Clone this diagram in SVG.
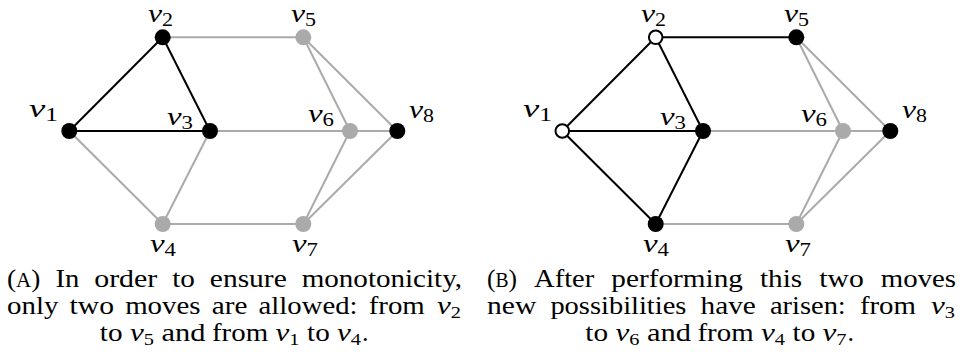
<svg xmlns="http://www.w3.org/2000/svg" width="960" height="364" viewBox="0 0 960 364">
<style>
.g{stroke:#aaaaaa;stroke-width:2;fill:none}
.k{stroke:#000;stroke-width:2;fill:none}
.nb{fill:#000}
.ng{fill:#aaaaaa}
.nw{fill:#fff;stroke:#000;stroke-width:2}
.lab{font-family:'Liberation Serif','Times New Roman',Tinos,Times,serif;font-style:italic;font-size:26px;fill:#000}
.sub{font-style:normal;font-size:18px}
.cap{font-family:'Liberation Serif','Times New Roman',Tinos,Times,serif;font-size:26px;fill:#000}
.m{font-family:'Liberation Serif','Times New Roman',Tinos,Times,serif;font-size:26px;font-style:italic;fill:#000}
.s{font-style:normal;font-size:17px}
.sc{font-size:20px}
</style>
<rect width="960" height="364" fill="#fff"/>
<g id="connectors">
<g id="edges-a">
<line class="g" x1="69.3" y1="131" x2="162.7" y2="224"/>
<line class="g" x1="210" y1="131" x2="162.7" y2="224"/>
<line class="g" x1="162.7" y1="37.3" x2="303.3" y2="37.3"/>
<line class="g" x1="210" y1="131" x2="350" y2="131"/>
<line class="g" x1="162.7" y1="224" x2="303.3" y2="224"/>
<line class="g" x1="303.3" y1="37.3" x2="350" y2="131"/>
<line class="g" x1="303.3" y1="37.3" x2="397.3" y2="131"/>
<line class="g" x1="350" y1="131" x2="397.3" y2="131"/>
<line class="g" x1="350" y1="131" x2="303.3" y2="224"/>
<line class="g" x1="397.3" y1="131" x2="303.3" y2="224"/>
<line class="k" x1="69.3" y1="131" x2="162.7" y2="37.3"/>
<line class="k" x1="69.3" y1="131" x2="210" y2="131"/>
<line class="k" x1="162.7" y1="37.3" x2="210" y2="131"/>
</g>
<g id="edges-b">
<line class="g" x1="703" y1="131" x2="843" y2="131"/>
<line class="g" x1="655.7" y1="224" x2="796.3" y2="224"/>
<line class="g" x1="796.3" y1="37.3" x2="843" y2="131"/>
<line class="g" x1="796.3" y1="37.3" x2="890.3" y2="131"/>
<line class="g" x1="843" y1="131" x2="890.3" y2="131"/>
<line class="g" x1="843" y1="131" x2="796.3" y2="224"/>
<line class="g" x1="890.3" y1="131" x2="796.3" y2="224"/>
<line class="k" x1="562.3" y1="131" x2="655.7" y2="37.3"/>
<line class="k" x1="562.3" y1="131" x2="703" y2="131"/>
<line class="k" x1="562.3" y1="131" x2="655.7" y2="224"/>
<line class="k" x1="655.7" y1="37.3" x2="703" y2="131"/>
<line class="k" x1="655.7" y1="37.3" x2="796.3" y2="37.3"/>
<line class="k" x1="703" y1="131" x2="655.7" y2="224"/>
</g>
</g>
<g id="a-v1"><circle class="nb" cx="69.3" cy="131" r="8"/><text class="lab" x="29" y="117" textLength="29" lengthAdjust="spacingAndGlyphs">v<tspan class="sub" dy="4">1</tspan></text></g>
<g id="a-v2"><circle class="nb" cx="162.7" cy="37.3" r="8"/><text class="lab" x="148" y="22" textLength="25" lengthAdjust="spacingAndGlyphs">v<tspan class="sub" dy="4">2</tspan></text></g>
<g id="a-v3"><circle class="nb" cx="210" cy="131" r="8"/><text class="lab" x="167" y="125" textLength="26" lengthAdjust="spacingAndGlyphs">v<tspan class="sub" dy="4">3</tspan></text></g>
<g id="a-v4"><circle class="ng" cx="162.7" cy="224" r="8"/><text class="lab" x="150" y="252" textLength="26" lengthAdjust="spacingAndGlyphs">v<tspan class="sub" dy="4">4</tspan></text></g>
<g id="a-v5"><circle class="ng" cx="303.3" cy="37.3" r="8"/><text class="lab" x="291" y="22" textLength="25" lengthAdjust="spacingAndGlyphs">v<tspan class="sub" dy="4">5</tspan></text></g>
<g id="a-v6"><circle class="ng" cx="350" cy="131" r="8"/><text class="lab" x="308" y="122" textLength="26" lengthAdjust="spacingAndGlyphs">v<tspan class="sub" dy="4">6</tspan></text></g>
<g id="a-v7"><circle class="ng" cx="303.3" cy="224" r="8"/><text class="lab" x="292" y="252" textLength="26" lengthAdjust="spacingAndGlyphs">v<tspan class="sub" dy="4">7</tspan></text></g>
<g id="a-v8"><circle class="nb" cx="397.3" cy="131" r="8"/><text class="lab" x="409" y="118" textLength="25" lengthAdjust="spacingAndGlyphs">v<tspan class="sub" dy="4">8</tspan></text></g>

<g id="b-v1"><circle class="nw" cx="562.3" cy="131" r="6.8"/><text class="lab" x="523" y="117" textLength="29" lengthAdjust="spacingAndGlyphs">v<tspan class="sub" dy="4">1</tspan></text></g>
<g id="b-v2"><circle class="nw" cx="655.7" cy="37.3" r="6.8"/><text class="lab" x="641" y="22" textLength="25" lengthAdjust="spacingAndGlyphs">v<tspan class="sub" dy="4">2</tspan></text></g>
<g id="b-v3"><circle class="nb" cx="703" cy="131" r="8"/><text class="lab" x="660" y="125" textLength="26" lengthAdjust="spacingAndGlyphs">v<tspan class="sub" dy="4">3</tspan></text></g>
<g id="b-v4"><circle class="nb" cx="655.7" cy="224" r="8"/><text class="lab" x="643" y="252" textLength="26" lengthAdjust="spacingAndGlyphs">v<tspan class="sub" dy="4">4</tspan></text></g>
<g id="b-v5"><circle class="nb" cx="796.3" cy="37.3" r="8"/><text class="lab" x="784" y="22" textLength="25" lengthAdjust="spacingAndGlyphs">v<tspan class="sub" dy="4">5</tspan></text></g>
<g id="b-v6"><circle class="ng" cx="843" cy="131" r="8"/><text class="lab" x="801" y="122" textLength="26" lengthAdjust="spacingAndGlyphs">v<tspan class="sub" dy="4">6</tspan></text></g>
<g id="b-v7"><circle class="ng" cx="796.3" cy="224" r="8"/><text class="lab" x="785" y="252" textLength="26" lengthAdjust="spacingAndGlyphs">v<tspan class="sub" dy="4">7</tspan></text></g>
<g id="b-v8"><circle class="nb" cx="890.3" cy="131" r="8"/><text class="lab" x="902" y="118" textLength="25" lengthAdjust="spacingAndGlyphs">v<tspan class="sub" dy="4">8</tspan></text></g>

<g id="caption-a">
<text class="cap" x="7" y="287" textLength="33.5" lengthAdjust="spacingAndGlyphs">(<tspan class="sc">A</tspan>)</text>
<text class="cap" x="55.4" y="287" textLength="23.9" lengthAdjust="spacingAndGlyphs">In</text>
<text class="cap" x="94.2" y="287" textLength="63.1" lengthAdjust="spacingAndGlyphs">order</text>
<text class="cap" x="172.2" y="287" textLength="22.7" lengthAdjust="spacingAndGlyphs">to</text>
<text class="cap" x="209.8" y="287" textLength="77" lengthAdjust="spacingAndGlyphs">ensure</text>
<text class="cap" x="301.7" y="287" textLength="160.4" lengthAdjust="spacingAndGlyphs">monotonicity,</text>

<text class="cap" x="7" y="314" textLength="51.4" lengthAdjust="spacingAndGlyphs">only</text>
<text class="cap" x="69.6" y="314" textLength="44.4" lengthAdjust="spacingAndGlyphs">two</text>
<text class="cap" x="125.2" y="314" textLength="75.3" lengthAdjust="spacingAndGlyphs">moves</text>
<text class="cap" x="211.7" y="314" textLength="35.7" lengthAdjust="spacingAndGlyphs">are</text>
<text class="cap" x="258.6" y="314" textLength="98.9" lengthAdjust="spacingAndGlyphs">allowed:</text>
<text class="cap" x="368.7" y="314" textLength="56.1" lengthAdjust="spacingAndGlyphs">from</text>
<text class="m" x="437" y="314" textLength="24" lengthAdjust="spacingAndGlyphs">v<tspan class="s" dy="4">2</tspan></text>

<text class="cap" x="99.8" y="341" textLength="22.7" lengthAdjust="spacingAndGlyphs">to</text>
<text class="m" x="130" y="341" textLength="24" lengthAdjust="spacingAndGlyphs">v<tspan class="s" dy="4">5</tspan></text>
<text class="cap" x="161.5" y="341" textLength="44" lengthAdjust="spacingAndGlyphs">and</text>
<text class="cap" x="212" y="341" textLength="56.1" lengthAdjust="spacingAndGlyphs">from</text>
<text class="m" x="275.5" y="341" textLength="24" lengthAdjust="spacingAndGlyphs">v<tspan class="s" dy="4">1</tspan></text>
<text class="cap" x="307.1" y="341" textLength="22.7" lengthAdjust="spacingAndGlyphs">to</text>
<text class="m" x="337" y="341" textLength="24" lengthAdjust="spacingAndGlyphs">v<tspan class="s" dy="4">4</tspan></text>
<text class="cap" x="362" y="341">.</text>
</g>
<g id="caption-b">
<text class="cap" x="487" y="287" textLength="30" lengthAdjust="spacingAndGlyphs">(<tspan class="sc">B</tspan>)</text>
<text class="cap" x="534.1" y="287" textLength="60.1" lengthAdjust="spacingAndGlyphs">After</text>
<text class="cap" x="611.3" y="287" textLength="131.6" lengthAdjust="spacingAndGlyphs">performing</text>
<text class="cap" x="760" y="287" textLength="42.2" lengthAdjust="spacingAndGlyphs">this</text>
<text class="cap" x="819.3" y="287" textLength="44.4" lengthAdjust="spacingAndGlyphs">two</text>
<text class="cap" x="880.8" y="287" textLength="75.3" lengthAdjust="spacingAndGlyphs">moves</text>

<text class="cap" x="487" y="314" textLength="49.3" lengthAdjust="spacingAndGlyphs">new</text>
<text class="cap" x="550.4" y="314" textLength="136" lengthAdjust="spacingAndGlyphs">possibilities</text>
<text class="cap" x="700.5" y="314" textLength="55.3" lengthAdjust="spacingAndGlyphs">have</text>
<text class="cap" x="769.9" y="314" textLength="75.9" lengthAdjust="spacingAndGlyphs">arisen:</text>
<text class="cap" x="859.9" y="314" textLength="56.1" lengthAdjust="spacingAndGlyphs">from</text>
<text class="m" x="931" y="314" textLength="24" lengthAdjust="spacingAndGlyphs">v<tspan class="s" dy="4">3</tspan></text>

<text class="cap" x="585.3" y="341" textLength="22.7" lengthAdjust="spacingAndGlyphs">to</text>
<text class="m" x="615.5" y="341" textLength="24" lengthAdjust="spacingAndGlyphs">v<tspan class="s" dy="4">6</tspan></text>
<text class="cap" x="647" y="341" textLength="44" lengthAdjust="spacingAndGlyphs">and</text>
<text class="cap" x="697.5" y="341" textLength="56.1" lengthAdjust="spacingAndGlyphs">from</text>
<text class="m" x="761" y="341" textLength="24" lengthAdjust="spacingAndGlyphs">v<tspan class="s" dy="4">4</tspan></text>
<text class="cap" x="792.6" y="341" textLength="22.7" lengthAdjust="spacingAndGlyphs">to</text>
<text class="m" x="822.5" y="341" textLength="24" lengthAdjust="spacingAndGlyphs">v<tspan class="s" dy="4">7</tspan></text>
<text class="cap" x="847.5" y="341">.</text>
</g>
</svg>
